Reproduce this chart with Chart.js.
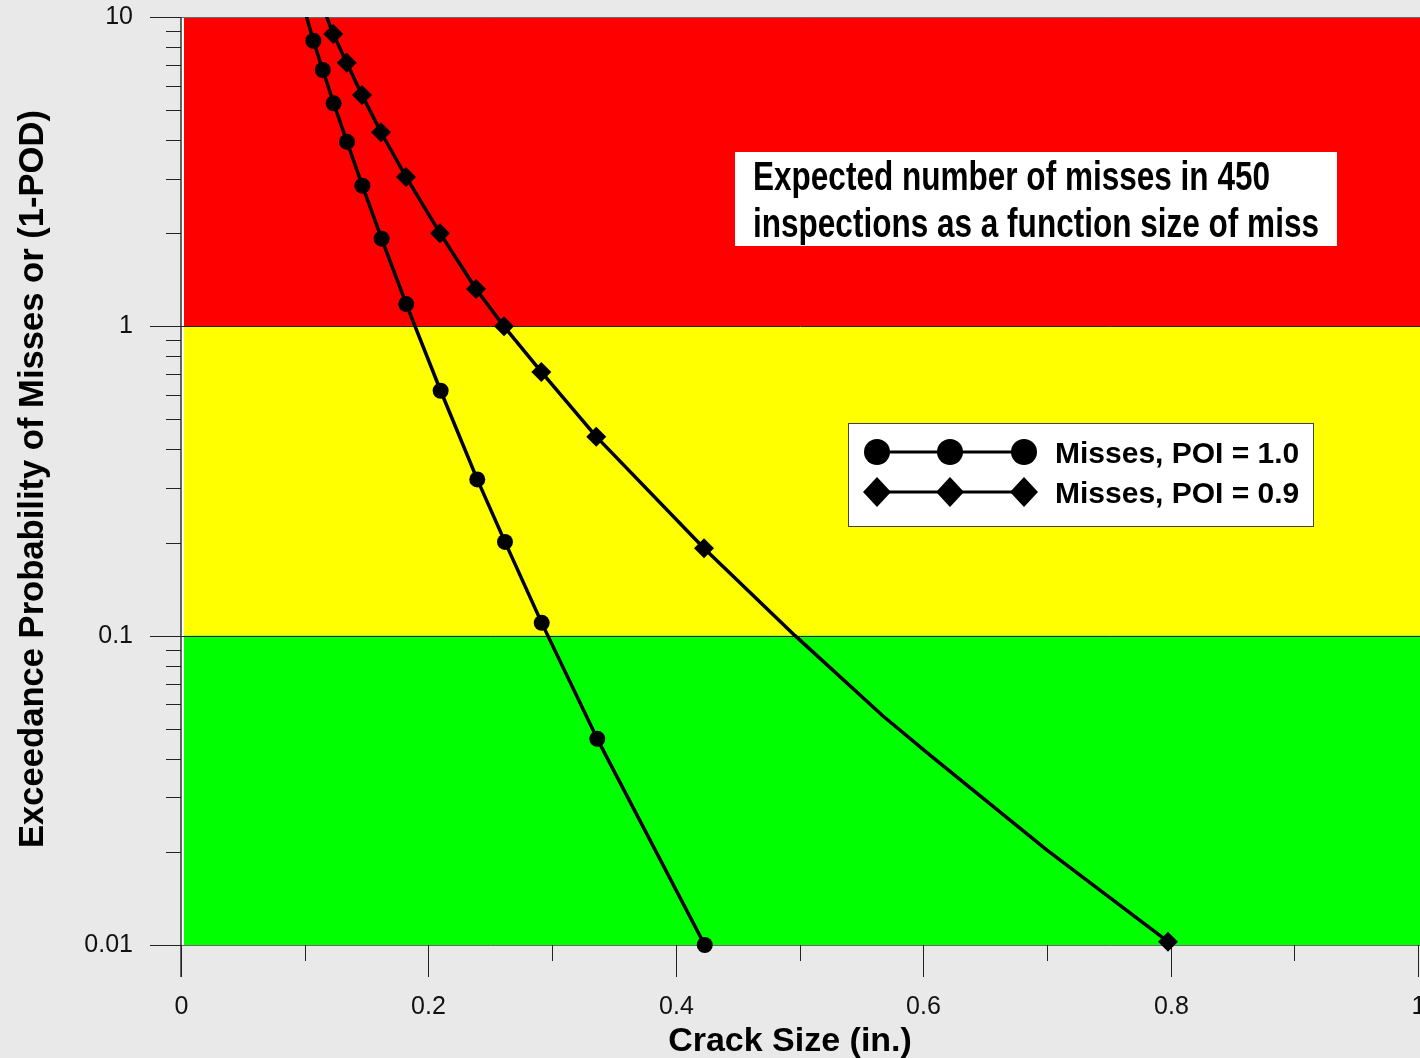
<!DOCTYPE html>
<html>
<head>
<meta charset="utf-8">
<script src="https://cdn.jsdelivr.net/npm/chart.js@4.4.1/dist/chart.umd.min.js"></script>
<style>
  html, body { margin: 0; padding: 0; background: #e9e9e9; }
  canvas { display: block; }
</style>
</head>
<body>
<canvas id="chart" width="1420" height="1058"></canvas>
<script>
// Expected misses in 450 inspections vs. crack size, marked points of each curve
const poi10Size   = [0.1070, 0.1146, 0.1234, 0.1342, 0.1466, 0.1622, 0.1821, 0.2099, 0.2395, 0.2619, 0.2916, 0.3365, 0.4234];
const poi10Misses = [8.38, 6.74, 5.26, 3.95, 2.85, 1.92, 1.18, 0.619, 0.320, 0.201, 0.110, 0.0464, 0.0100];

const poi09Size   = [0.1231, 0.1340, 0.1463, 0.1617, 0.1819, 0.2094, 0.2385, 0.2611, 0.2913, 0.3357, 0.4228, 0.7979];
const poi09Misses = [8.81, 7.12, 5.60, 4.24, 3.04, 2.00, 1.32, 1.00, 0.712, 0.440, 0.1916, 0.01025];

// Curve points drawn without a marker (run past the top edge, and the smooth tail)
const poi10ExtraSize   = [0.0992];
const poi10ExtraMisses = [10.8];
const poi09ExtraSize   = [0.1146, 0.4964, 0.5675, 0.6055, 0.6998];
const poi09ExtraMisses = [10.8, 0.100, 0.0550, 0.0411, 0.0203];

const seriesLabels = ['Misses, POI = 1.0', 'Misses, POI = 0.9'];

// Risk bands: red above 1 miss, yellow 0.1 - 1, green below 0.1
const bandEdges  = [10, 1, 0.1, 0.01];
const bandColors = ['#ff0000', '#ffff00', '#00ff00'];

const xTickLabels = ['0', '0.2', '0.4', '0.6', '0.8', '1'];
const yTickLabels = ['0.01', '0.1', '1', '10'];

const xTitle = 'Crack Size (in.)';
const yTitle = 'Exceedance Probability of Misses or (1-POD)';
const noteLines = ['Expected number of misses in 450', 'inspections as a function size of miss'];

// ---------------------------------------------------------------------------
const FONT = '"Liberation Sans", Arial, Helvetica, sans-serif';
Chart.defaults.font.family = FONT;
Chart.defaults.color = '#111';

const toPoints = (xs, ys) => xs.map((x, i) => ({ x, y: ys[i] }));
const byX = (a, b) => a.x - b.x;

const poi10Marks = toPoints(poi10Size, poi10Misses);
const poi09Marks = toPoints(poi09Size, poi09Misses);
const poi10Curve = poi10Marks.concat(toPoints(poi10ExtraSize, poi10ExtraMisses)).sort(byX);
const poi09Curve = poi09Marks.concat(toPoints(poi09ExtraSize, poi09ExtraMisses)).sort(byX);

// tick positions: every tenth on x, 1..9 per decade on y
const xTickValues = [];
for (let i = 0; i <= 10; i++) xTickValues.push(i / 10);
const decades = yTickLabels.map(Number);
const yTickValues = [];
decades.forEach((d, i) => {
  if (i < decades.length - 1) {
    for (let m = 1; m <= 9; m++) yTickValues.push(+(d * m).toPrecision(3));
  } else {
    yTickValues.push(d);
  }
});

const labelFor = (labels, v) => {
  const hit = labels.find(l => Math.abs(Number(l) - v) < 1e-9);
  return hit === undefined ? '' : hit;
};

const AXIS_W = 181;   // width reserved left of the plot
const AXIS_H = 113;   // height reserved below the plot

function diamond(ctx, x, y, hw, hh) {
  ctx.beginPath();
  ctx.moveTo(x, y - hh);
  ctx.lineTo(x + hw, y);
  ctx.lineTo(x, y + hh);
  ctx.lineTo(x - hw, y);
  ctx.closePath();
  ctx.fill();
}

const framePlugin = {
  id: 'frame',
  beforeDraw(chart) {
    const { ctx } = chart;
    ctx.save();
    ctx.fillStyle = '#e9e9e9';
    ctx.fillRect(0, 0, chart.width, chart.height);
    ctx.restore();
  },
  beforeDatasetsDraw(chart) {
    const { ctx, chartArea: a, scales: { x, y } } = chart;
    ctx.save();
    // plot background and coloured bands
    ctx.fillStyle = '#ffffff';
    ctx.fillRect(a.left, a.top, chart.width - a.left, a.bottom - a.top);
    for (let i = 0; i < bandColors.length; i++) {
      const t = y.getPixelForValue(bandEdges[i]);
      const b = y.getPixelForValue(bandEdges[i + 1]);
      ctx.fillStyle = bandColors[i];
      ctx.fillRect(a.left + 3, t, chart.width - a.left - 3, b - t);
    }
    // band boundaries
    ctx.lineWidth = 1;
    bandEdges.forEach((v, i) => {
      const py = Math.round(y.getPixelForValue(v)) + 0.5;
      ctx.strokeStyle = (i === 0 || i === bandEdges.length - 1) ? '#6a6a6a' : '#222';
      ctx.beginPath();
      ctx.moveTo(a.left, py);
      ctx.lineTo(chart.width, py);
      ctx.stroke();
    });
    // y axis line (continues down as the x = 0 tick)
    ctx.strokeStyle = '#333';
    ctx.lineWidth = 1.5;
    ctx.beginPath();
    ctx.moveTo(a.left, a.top);
    ctx.lineTo(a.left, a.bottom + 32);
    ctx.stroke();
    // tick marks
    ctx.lineWidth = 1;
    ctx.strokeStyle = '#222';
    y.ticks.forEach(t => {
      const py = Math.round(y.getPixelForValue(t.value)) + 0.5;
      const len = labelFor(yTickLabels, t.value) ? 31 : 15;
      ctx.beginPath();
      ctx.moveTo(a.left - len, py);
      ctx.lineTo(a.left, py);
      ctx.stroke();
    });
    ctx.fillStyle = '#111';
    ctx.font = '25px ' + FONT;
    ctx.textAlign = 'center';
    ctx.textBaseline = 'middle';
    x.ticks.forEach(t => {
      const px = Math.round(x.getPixelForValue(t.value)) + 0.5;
      const label = labelFor(xTickLabels, t.value);
      const len = label ? 32 : 16;
      ctx.beginPath();
      ctx.moveTo(px, a.bottom);
      ctx.lineTo(px, a.bottom + len);
      ctx.stroke();
      if (label) ctx.fillText(label, px, a.bottom + 62);
    });
    ctx.restore();
  },
  afterDraw(chart) {
    const { ctx } = chart;
    ctx.save();
    ctx.fillStyle = '#000';

    // axis titles
    ctx.textAlign = 'center';
    ctx.textBaseline = 'alphabetic';
    ctx.font = 'bold 34px ' + FONT;
    ctx.fillText(xTitle, 790, 1051);
    ctx.font = 'bold 34.6px ' + FONT;
    ctx.save();
    ctx.translate(43, 479);
    ctx.rotate(-Math.PI / 2);
    ctx.fillText(yTitle, 0, 0);
    ctx.restore();

    // annotation box (condensed bold lettering)
    ctx.fillStyle = '#ffffff';
    ctx.fillRect(735, 152, 602, 94);
    ctx.fillStyle = '#000';
    ctx.textAlign = 'left';
    ctx.font = 'bold 40px ' + FONT;
    const sx = 517 / ctx.measureText(noteLines[0]).width;
    [190, 237].forEach((base, i) => {
      ctx.save();
      ctx.translate(753, base);
      ctx.scale(sx, 1);
      ctx.fillText(noteLines[i], 0, 0);
      ctx.restore();
    });

    // legend
    ctx.fillStyle = '#ffffff';
    ctx.fillRect(848, 423, 465, 103);
    ctx.strokeStyle = '#444';
    ctx.lineWidth = 1;
    ctx.strokeRect(848.5, 423.5, 465, 103);
    const rows = [452, 492];
    const xs = [877, 950, 1024];
    rows.forEach((ry, i) => {
      ctx.strokeStyle = '#000';
      ctx.lineWidth = 3;
      ctx.beginPath();
      ctx.moveTo(xs[0], ry);
      ctx.lineTo(xs[2], ry);
      ctx.stroke();
      ctx.fillStyle = '#000';
      xs.forEach(mx => {
        if (i === 0) {
          ctx.beginPath();
          ctx.arc(mx, ry, 13, 0, Math.PI * 2);
          ctx.fill();
        } else {
          diamond(ctx, mx, ry, 14, 15);
        }
      });
      ctx.font = 'bold 30px ' + FONT;
      ctx.textBaseline = 'alphabetic';
      ctx.fillText(seriesLabels[i], 1055, ry + 11);
    });
    ctx.restore();
  }
};

new Chart(document.getElementById('chart'), {
  type: 'line',
  data: {
    datasets: [
      {
        label: seriesLabels[0], data: poi10Marks, showLine: false,
        pointStyle: 'circle', pointRadius: 8, pointBackgroundColor: '#000',
        pointBorderWidth: 0, clip: false, order: 0
      },
      {
        label: seriesLabels[1], data: poi09Marks, showLine: false,
        pointStyle: 'rectRot', pointRadius: 10, pointBackgroundColor: '#000',
        pointBorderWidth: 0, clip: false, order: 0
      },
      {
        label: seriesLabels[0] + ' curve', data: poi10Curve,
        borderColor: '#000', borderWidth: 3.5, pointRadius: 0, tension: 0,
        borderJoinStyle: 'round', borderCapStyle: 'round', order: 1
      },
      {
        label: seriesLabels[1] + ' curve', data: poi09Curve,
        borderColor: '#000', borderWidth: 3.5, pointRadius: 0, tension: 0,
        borderJoinStyle: 'round', borderCapStyle: 'round', order: 1
      }
    ]
  },
  options: {
    responsive: false,
    devicePixelRatio: 1,
    animation: false,
    events: [],
    layout: { autoPadding: false, padding: { top: 17, right: 2, left: 0, bottom: 0 } },
    plugins: { legend: { display: false }, tooltip: { enabled: false } },
    scales: {
      x: {
        type: 'linear', min: 0, max: 1,
        grid: { display: false, drawTicks: false },
        border: { display: false },
        afterBuildTicks: s => { s.ticks = xTickValues.map(v => ({ value: v })); },
        afterFit: s => { s.height = AXIS_H; s.paddingLeft = 0; s.paddingRight = 0; },
        ticks: { display: false, autoSkip: false, maxRotation: 0 }
      },
      y: {
        type: 'logarithmic', min: 0.01, max: 10,
        grid: { display: false, drawTicks: false },
        border: { display: false },
        afterBuildTicks: s => { s.ticks = yTickValues.map(v => ({ value: v })); },
        afterFit: s => { s.width = AXIS_W; s.paddingTop = 0; s.paddingBottom = 0; },
        ticks: {
          autoSkip: false, padding: 48,
          font: { size: 25 }, color: '#111',
          callback: v => labelFor(yTickLabels, v)
        }
      }
    }
  },
  plugins: [framePlugin]
});
</script>
</body>
</html>
